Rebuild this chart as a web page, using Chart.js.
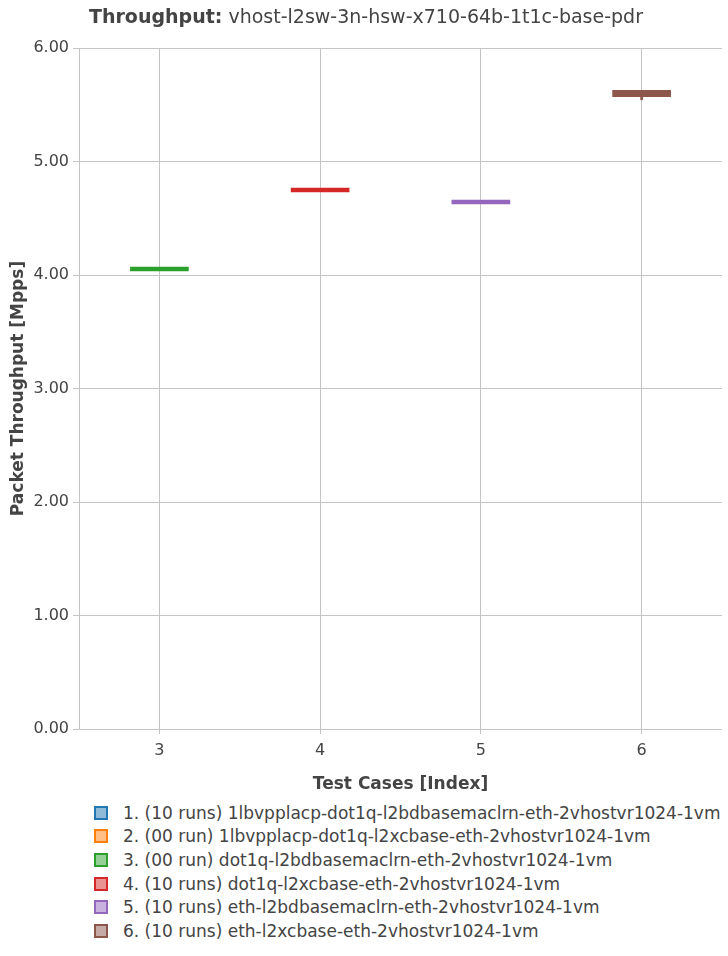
<!DOCTYPE html>
<html>
<head>
<meta charset="utf-8">
<script src="https://cdn.jsdelivr.net/npm/chart.js@4/dist/chart.umd.min.js"></script>
<style>
  body { margin: 0; background: #fff; font-family: "DejaVu Sans", sans-serif; color: #444; }
  #wrap { position: relative; width: 728px; height: 956px; }
  #titulo { position: absolute; left: 89px; top: 5px; font-size: 19px; white-space: nowrap; }
  #leyenda { position: absolute; left: 94px; top: 801px; font-size: 17px; }
  .fila { height: 23.6px; display: flex; align-items: center; white-space: nowrap; }
  .caja { width: 14px; height: 14px; box-sizing: border-box; border: 2px solid; margin-right: 15px; }
</style>
</head>
<body>
<div id="wrap">
  <canvas id="grafica" width="728" height="799"></canvas>
  <div id="titulo"><b>Throughput:</b> vhost-l2sw-3n-hsw-x710-64b-1t1c-base-pdr</div>
  <div id="leyenda"></div>
</div>
<script>
const categorias = ["3", "4", "5", "6"]

const nombres = [
    "1. (10 runs) 1lbvpplacp-dot1q-l2bdbasemaclrn-eth-2vhostvr1024-1vm",
    "2. (00 run) 1lbvpplacp-dot1q-l2xcbase-eth-2vhostvr1024-1vm",
    "3. (00 run) dot1q-l2bdbasemaclrn-eth-2vhostvr1024-1vm",
    "4. (10 runs) dot1q-l2xcbase-eth-2vhostvr1024-1vm",
    "5. (10 runs) eth-l2bdbasemaclrn-eth-2vhostvr1024-1vm",
    "6. (10 runs) eth-l2xcbase-eth-2vhostvr1024-1vm"
]

const colores = ["#1f77b4", "#ff7f0e", "#2ca02c", "#d62728", "#9467bd", "#8c564b"]
const rellenos = ["rgba(31,119,180,0.5)", "rgba(255,127,14,0.5)", "rgba(44,160,44,0.5)",
    "rgba(214,39,40,0.5)", "rgba(148,103,189,0.5)", "rgba(140,86,75,0.5)"]

// caja (q1..q3) de cada caso, null = sin datos
const cajaBaja = [null, null, 4.035, 4.731, 4.626, 5.571]
const cajaAlta = [null, null, 4.070, 4.766, 4.661, 5.627]
const bigoteBajo = [null, null, null, null, null, 5.544]

const yTicks = [0, 1, 2, 3, 4, 5, 6]

const grid = "#c4c4c4"

function datosCaso(i) {
    const d = categorias.map(() => null)
    const pos = categorias.indexOf(String(i + 1))
    if (pos >= 0 && cajaBaja[i] !== null) d[pos] = [cajaBaja[i], cajaAlta[i]]
    return d
}

function datosBigote(i) {
    const d = categorias.map(() => null)
    const pos = categorias.indexOf(String(i + 1))
    if (pos >= 0 && bigoteBajo[i] !== null) d[pos] = [bigoteBajo[i], cajaBaja[i]]
    return d
}

const datasets = []

for (let i = 0; i < nombres.length; i++) {
    if (bigoteBajo[i] !== null) {
        datasets.push({
            label: "bigote" + i,
            data: datosBigote(i),
            backgroundColor: colores[i],
            borderWidth: 0,
            barThickness: 2,
            grouped: false,
            order: 2
        })
    }
    datasets.push({
        label: nombres[i],
        data: datosCaso(i),
        backgroundColor: colores[i],
        borderWidth: 0,
        barThickness: 58,
        grouped: false,
        order: 1
    })
}

const fuente = "'DejaVu Sans', sans-serif"

new Chart(document.getElementById("grafica"), {
    type: "bar",
    data: { labels: categorias, datasets: datasets },
    options: {
        responsive: false,
        animation: false,
        layout: { padding: { top: 48, right: 6, left: 0, bottom: 0 } },
        plugins: { legend: { display: false }, tooltip: { enabled: false } },
        scales: {
            x: {
                offset: true,
                grid: { offset: false, color: grid, tickLength: 5 },
                border: { display: false },
                ticks: { color: "#444", font: { family: fuente, size: 16 }, padding: 7 },
                title: { display: true, text: "Test Cases [Index]", color: "#444",
                    font: { family: fuente, size: 17, weight: "bold" }, padding: { top: 4, bottom: 4 } },
                afterFit: (s) => { s.height = 799 - 729 }
            },
            y: {
                min: 0,
                max: 6,
                afterBuildTicks: (s) => { s.ticks = yTicks.map(v => ({ value: v })) },
                grid: { color: grid, tickLength: 6 },
                border: { display: true, color: grid },
                ticks: { color: "#444", font: { family: fuente, size: 16 }, padding: 4,
                    callback: (v) => v.toFixed(2) },
                title: { display: true, text: "Packet Throughput [Mpps]", color: "#444",
                    font: { family: fuente, size: 17, weight: "bold" }, padding: { top: 8, bottom: 4 } },
                afterFit: (s) => { s.width = 79 }
            }
        }
    }
})

const leyenda = document.getElementById("leyenda")
for (let i = 0; i < nombres.length; i++) {
    leyenda.innerHTML += `
        <div class="fila">
        <div class="caja" style="border-color:${colores[i]};background:${rellenos[i]}"></div>
        <span>${nombres[i]}</span>
        </div>
        `
}
</script>
</body>
</html>
